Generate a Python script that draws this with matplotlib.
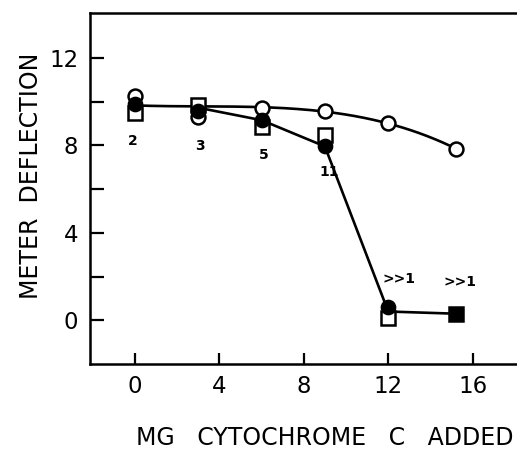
import numpy as np
import matplotlib
matplotlib.use("Agg")
import matplotlib.pyplot as plt

# data
x_pts = [0, 3, 6, 9, 12, 15.2]
open_circle_y = [10.25, 9.3, 9.7, 9.55, 9.0, 7.85]
filled_circle_x = [0, 3, 6, 9, 12]
filled_circle_y = [9.9, 9.55, 9.15, 7.95, 0.6]
open_square_x = [0, 3, 6, 9, 12]
open_square_y = [9.5, 9.85, 8.85, 8.45, 0.1]
filled_square_x = [15.2]
filled_square_y = [0.3]

# drawn curves
upper_curve_x = [0, 3, 6, 9, 12, 15.2]
upper_curve_y = [9.82, 9.8, 9.72, 9.55, 9.0, 7.85]
lower_line_x = [3, 6, 9, 12, 15.2]
lower_line_y = [9.72, 9.15, 7.95, 0.4, 0.3]

annot_text = ["2", "3", "5", "11", ">>1", ">>1"]
annot_x = [-0.1, 3.1, 6.1, 9.2, 12.5, 15.4]
annot_y = [8.2, 7.95, 7.55, 6.8, 1.9, 1.75]

xticks = [0, 4, 8, 12, 16]
yticks_major = [0, 4, 8, 12]
yticks_minor = [2, 6, 10]

W, H = 517, 449
plt.rcParams['font.family'] = ['DejaVu Sans']
fig = plt.figure(figsize=(W / 100, H / 100), dpi=100)
ax = fig.add_axes([89.5 / W, 1 - 364 / H, 1 - 89.5 / W, (364 - 13) / H])
ax.set_xlim(-2.15, 18.1)
ax.set_ylim(-2.0, 14.05)

lw = 1.9
# upper smooth curve
coef = np.polyfit(upper_curve_x, upper_curve_y, 3)
xs = np.linspace(min(upper_curve_x), max(upper_curve_x), 200)
ax.plot(xs, np.polyval(coef, xs), color='black', lw=lw, zorder=2)
ax.plot(lower_line_x, lower_line_y, color='black', lw=lw, zorder=2)

ms = 9.5
mew = 1.8
ax.plot(open_square_x, open_square_y, 's', ms=ms, mfc='white', mec='black', mew=mew, zorder=3, ls='none')
ax.plot(x_pts, open_circle_y, 'o', ms=ms + 0.5, mfc='white', mec='black', mew=mew, zorder=3, ls='none')
ax.plot(filled_circle_x, filled_circle_y, 'o', ms=ms, mfc='black', mec='black', mew=mew, zorder=4, ls='none')
ax.plot(filled_square_x, filled_square_y, 's', ms=ms, mfc='black', mec='black', mew=mew, zorder=4, ls='none')

for t, xx, yy in zip(annot_text, annot_x, annot_y):
    ax.text(xx, yy, t, ha='center', va='center', fontsize=10, fontweight='bold')

ax.spines['right'].set_visible(False)
for s in ['left', 'bottom', 'top']:
    ax.spines[s].set_linewidth(1.8)

ax.set_xticks(xticks)
ax.set_xticklabels([str(v) for v in xticks])
ax.set_yticks(yticks_major)
ax.set_yticklabels([str(v) for v in yticks_major])
ax.set_yticks(yticks_minor, minor=True)
ax.tick_params(axis='both', which='both', direction='in', width=1.6, labelsize=16.5)
ax.tick_params(axis='y', which='both', length=10, pad=8)
ax.tick_params(axis='x', which='both', length=8, pad=8)

fig.text(325 / W, 1 - 445 / H, "MG   CYTOCHROME   C   ADDED", fontsize=17,
         ha='center', va='baseline')
fig.text(31 / W, 1 - 176 / H, "METER  DEFLECTION", fontsize=17,
         ha='center', va='center', rotation=90)

fig.savefig("out.png", dpi=100)
